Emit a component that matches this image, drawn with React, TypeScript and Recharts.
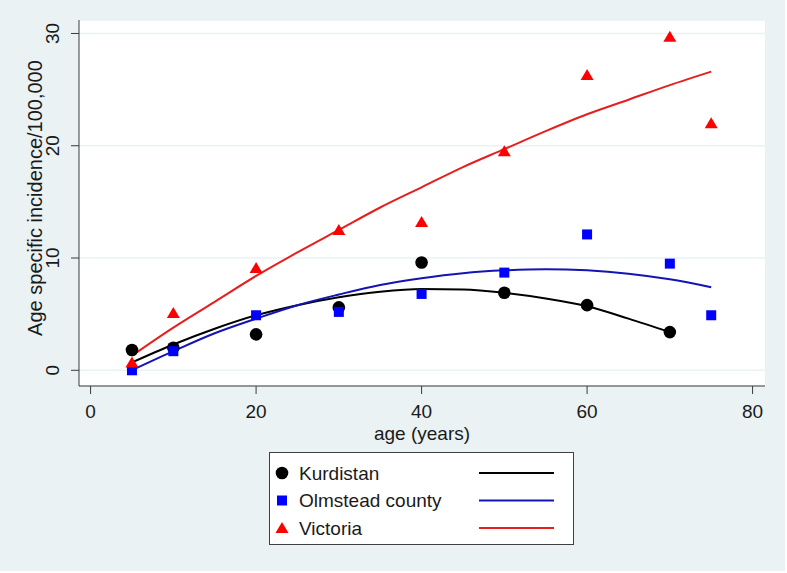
import React from 'react';
import {
  ComposedChart,
  Scatter,
  Line,
  XAxis,
  YAxis,
  CartesianGrid,
  Legend,
  Label,
} from 'recharts';

// ---- data ----
const ages = [5, 10, 20, 30, 40, 50, 60, 70, 75];
const kurdistanRates = [1.8, 2.0, 3.2, 5.6, 9.6, 6.9, 5.8, 3.4];
const olmsteadRates = [0.0, 1.7, 4.9, 5.2, 6.8, 8.7, 12.1, 9.5, 4.9];
const victoriaRates = [0.7, 5.1, 9.1, 12.5, 13.2, 19.5, 26.3, 29.7, 22.0];

const fitAges = [5, 10, 15, 20, 25, 30, 35, 40, 45, 50, 55, 60, 65, 70, 75];
const kurdistanFit = [0.7, 2.3, 3.7, 4.9, 5.8, 6.5, 7.0, 7.25, 7.2, 6.9, 6.4, 5.7, 4.6, 3.4];
const olmsteadFit = [0.0, 1.7, 3.3, 4.6, 5.8, 6.75, 7.6, 8.2, 8.65, 8.9, 9.0, 8.9, 8.6, 8.1, 7.4];
const victoriaFit = [1.3, 3.8, 6.1, 8.4, 10.5, 12.5, 14.5, 16.3, 18.1, 19.7, 21.3, 22.8, 24.1, 25.4, 26.6];

const xTicks = [0, 20, 40, 60, 80];
const yTicks = [0, 10, 20, 30];
const seriesNames = ['Kurdistan', 'Olmstead county', 'Victoria'];

const toPoints = (xs: number[], ys: number[]) => ys.map((y, i) => ({ x: xs[i], y }));

const kurdistanPoints = toPoints(ages, kurdistanRates);
const olmsteadPoints = toPoints(ages, olmsteadRates);
const victoriaPoints = toPoints(ages, victoriaRates);
const kurdistanLine = toPoints(fitAges, kurdistanFit);
const olmsteadLine = toPoints(fitAges, olmsteadFit);
const victoriaLine = toPoints(fitAges, victoriaFit);

// ---- styles ----
const FONT = '"Liberation Sans", Arial, Helvetica, sans-serif';
const TEXT = '#1a1a1a';
const AXIS = '#3a3a3a';
const BG = '#eaf2f3';
const styles = [
  { marker: 'circle', markerColor: '#000000', lineColor: '#000000' },
  { marker: 'square', markerColor: '#0000ff', lineColor: '#1414b4' },
  { marker: 'triangle', markerColor: '#ff0000', lineColor: '#e61e1e' },
];

const drawMarker = (kind: string, cx: number, cy: number, color: string) => {
  if (kind === 'circle') return <circle cx={cx} cy={cy} r={6.3} fill={color} />;
  if (kind === 'square') return <rect x={cx - 5} y={cy - 5} width={10} height={10} fill={color} />;
  return (
    <polygon
      points={`${cx},${cy - 6} ${cx - 6.5},${cy + 5} ${cx + 6.5},${cy + 5}`}
      fill={color}
    />
  );
};

const makeShape = (kind: string, color: string) => (props: any) => {
  const { cx, cy } = props;
  if (cx == null || cy == null) return <g />;
  return drawMarker(kind, cx, cy, color);
};

const YTick = (props: any) => {
  const { x, y, payload } = props;
  const cx = x - 18;
  return (
    <text
      x={cx}
      y={y}
      transform={`rotate(-90, ${cx}, ${y})`}
      textAnchor="middle"
      dominantBaseline="central"
      fontFamily={FONT}
      fontSize={19}
      fill={TEXT}
    >
      {payload.value}
    </text>
  );
};

const LegendBox = () => (
  <svg width={305} height={93} style={{ display: 'block' }}>
    <rect x={0.5} y={0.5} width={304} height={92} fill="#ffffff" stroke="#404040" strokeWidth={1} />
    {seriesNames.map((name, i) => {
      const cy = 21 + i * 27.5;
      const s = styles[i];
      return (
        <g key={name}>
          {drawMarker(s.marker, 13, cy, s.markerColor)}
          <text
            x={30}
            y={cy}
            dominantBaseline="central"
            fontFamily={FONT}
            fontSize={19}
            fill={TEXT}
          >
            {name}
          </text>
          <line x1={210} x2={285} y1={cy} y2={cy} stroke={s.lineColor} strokeWidth={2} />
        </g>
      );
    })}
  </svg>
);

export default function App() {
  return (
    <div
      style={{
        position: 'absolute',
        left: 0,
        top: 0,
        width: 787,
        height: 573,
        background: '#ffffff',
      }}
    >
      <div style={{ position: 'absolute', left: 0, top: 0, width: 785, height: 571, background: BG }} />
      <div style={{ position: 'absolute', left: 0, top: 0 }}>
        <ComposedChart
          width={787}
          height={573}
          margin={{ top: 20, right: 22, left: 0, bottom: 0 }}
        >
          <CartesianGrid vertical={false} stroke={BG} strokeWidth={1.5} fill="#ffffff" />
          <XAxis
            type="number"
            dataKey="x"
            domain={[-1.4, 81.5]}
            ticks={xTicks}
            allowDataOverflow
            height={187}
            tickSize={8}
            tickMargin={11}
            stroke={AXIS}
            tick={{ fontFamily: FONT, fontSize: 19, fill: TEXT }}
            axisLine={{ stroke: AXIS }}
            tickLine={{ stroke: AXIS }}
          >
            <Label
              content={(p: any) => {
                const vb = p.viewBox || { x: 79, y: 386, width: 686 };
                return (
                  <text
                    x={vb.x + vb.width / 2}
                    y={vb.y + 54}
                    textAnchor="middle"
                    fontFamily={FONT}
                    fontSize={19}
                    fill={TEXT}
                  >
                    age (years)
                  </text>
                );
              }}
            />
          </XAxis>
          <YAxis
            type="number"
            dataKey="y"
            domain={[-1.4, 31.2]}
            ticks={yTicks}
            allowDataOverflow
            width={79}
            tickSize={8}
            tickMargin={0}
            stroke={AXIS}
            tick={<YTick />}
            axisLine={{ stroke: AXIS }}
            tickLine={{ stroke: AXIS }}
          >
            <Label
              content={(p: any) => {
                const vb = p.viewBox || { x: 0, y: 20, width: 79, height: 366 };
                const cx = vb.x + 35;
                const cy = vb.y + vb.height / 2 - 5;
                return (
                  <text
                    x={cx}
                    y={cy}
                    transform={`rotate(-90, ${cx}, ${cy})`}
                    textAnchor="middle"
                    dominantBaseline="central"
                    fontFamily={FONT}
                    fontSize={20}
                    fill={TEXT}
                  >
                    Age specific incidence/100,000
                  </text>
                );
              }}
            />
          </YAxis>
          <Legend
            layout="horizontal"
            verticalAlign="middle"
            align="center"
            content={() => <LegendBox />}
            wrapperStyle={{ position: 'absolute', left: 269, top: 452, width: 305, height: 93 }}
          />
          <Scatter
            name="Kurdistan"
            data={kurdistanPoints}
            dataKey="y"
            shape={makeShape('circle', styles[0].markerColor)}
            isAnimationActive={false}
          />
          <Scatter
            name="Olmstead county"
            data={olmsteadPoints}
            dataKey="y"
            shape={makeShape('square', styles[1].markerColor)}
            isAnimationActive={false}
          />
          <Scatter
            name="Victoria"
            data={victoriaPoints}
            dataKey="y"
            shape={makeShape('triangle', styles[2].markerColor)}
            isAnimationActive={false}
          />
          <Line
            data={kurdistanLine}
            dataKey="y"
            type="monotone"
            stroke={styles[0].lineColor}
            strokeWidth={2}
            dot={false}
            activeDot={false}
            legendType="none"
            isAnimationActive={false}
          />
          <Line
            data={olmsteadLine}
            dataKey="y"
            type="monotone"
            stroke={styles[1].lineColor}
            strokeWidth={2}
            dot={false}
            activeDot={false}
            legendType="none"
            isAnimationActive={false}
          />
          <Line
            data={victoriaLine}
            dataKey="y"
            type="monotone"
            stroke={styles[2].lineColor}
            strokeWidth={2}
            dot={false}
            activeDot={false}
            legendType="none"
            isAnimationActive={false}
          />
        </ComposedChart>
      </div>
    </div>
  );
}
